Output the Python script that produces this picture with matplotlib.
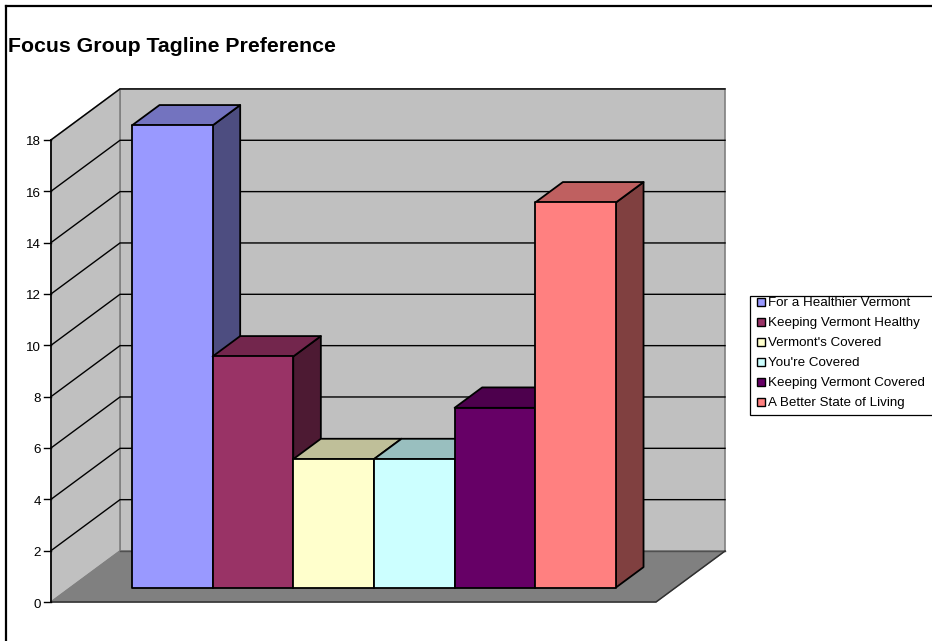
import matplotlib
matplotlib.use("Agg")
import matplotlib.pyplot as plt
from matplotlib.colors import to_rgb
from matplotlib.patches import Polygon, Rectangle

plt.rcParams["font.family"] = ["Liberation Sans", "DejaVu Sans"]

# Chart content
title = "Focus Group Tagline Preference"
taglines = ["For a Healthier Vermont", "Keeping Vermont Healthy", "Vermont's Covered",
            "You're Covered", "Keeping Vermont Covered", "A Better State of Living"]
votes = [18, 9, 5, 5, 7, 15]
bar_colors = ["#9999FF", "#993366", "#FFFFCC", "#CCFFFF", "#660066", "#FF8080"]
y_ticks = list(range(0, 20, 2))

W, H = 932, 641
fig = plt.figure(figsize=(W / 100, H / 100), dpi=100, facecolor="white")

# Pixel overlay for the frame, title and legend
page = fig.add_axes([0, 0, 1, 1], zorder=3)
page.set_xlim(0, W)
page.set_ylim(H, 0)
page.axis("off")
page.patch.set_alpha(0)

# Plot box: one x unit is one bar width, one y unit is one vote
PX_X0, PX_Y0 = 51.0, 602.0
PX_PER_BAR, PX_PER_VOTE = 80.67, 25.67
ax = fig.add_axes([0, 0, 1, 1], zorder=1)
ax.set_xlim(-PX_X0 / PX_PER_BAR, (W - PX_X0) / PX_PER_BAR)
ax.set_ylim((PX_Y0 - H) / PX_PER_VOTE, PX_Y0 / PX_PER_VOTE)
ax.axis("off")

# Oblique depth: depth 1 is the back wall
DX = 69.0 / PX_PER_BAR
DY = 51.0 / PX_PER_VOTE
FLOOR_W = 7.5
BAR_START = 0.76
Y_TOP = max(y_ticks)
BAR_D0, BAR_D1 = 0.284, 0.684


def pt(x, v, d=0.0):
    return (x + DX * d, v + DY * d)


def face(points, **kw):
    ax.add_patch(Polygon(points, closed=True, **kw))


def shade(color, k):
    return tuple(c * k for c in to_rgb(color))


WALL, FLOOR, EDGE = "#C0C0C0", "#808080", "#808080"

# Walls and floor
face([pt(0, 0, 1), pt(FLOOR_W, 0, 1), pt(FLOOR_W, Y_TOP, 1), pt(0, Y_TOP, 1)],
     facecolor=WALL, edgecolor=EDGE, linewidth=1.2, zorder=1)
face([pt(0, 0, 0), pt(0, 0, 1), pt(0, Y_TOP, 1), pt(0, Y_TOP, 0)],
     facecolor=WALL, edgecolor=EDGE, linewidth=1.2, zorder=1)
face([pt(0, 0, 0), pt(FLOOR_W, 0, 0), pt(FLOOR_W, 0, 1), pt(0, 0, 1)],
     facecolor=FLOOR, edgecolor=FLOOR, linewidth=0.8, zorder=1)

# Gridlines run along the side wall and then across the back wall
for v in y_ticks[1:]:
    xs, ys = zip(pt(0, v, 0), pt(0, v, 1), pt(FLOOR_W, v, 1))
    ax.plot(xs, ys, color="black", linewidth=1.0, zorder=2, solid_joinstyle="miter")
ax.plot(*zip(pt(0, 0, 1), pt(FLOOR_W, 0, 1)), color="#505050", linewidth=1.0, zorder=2)
ax.plot(*zip(pt(0, 0, 0), pt(FLOOR_W, 0, 0), pt(FLOOR_W, 0, 1)),
        color="#303030", linewidth=1.1, zorder=2)

# Value axis with outward ticks
ax.plot(*zip(pt(0, 0), pt(0, Y_TOP)), color="black", linewidth=1.2, zorder=3)
for v in y_ticks:
    x0, y0 = pt(0, v)
    ax.plot([x0 - 7 / PX_PER_BAR, x0], [y0, y0], color="black", linewidth=1.0, zorder=3)
    ax.text(x0 - 10 / PX_PER_BAR, y0 - 1 / PX_PER_VOTE, str(v), ha="right", va="center_baseline",
            fontsize=9.6, color="black", zorder=3)

# Bars, drawn left to right so each covers its neighbour's hidden edge
for i, (value, color) in enumerate(zip(votes, bar_colors)):
    x0, x1 = BAR_START + i, BAR_START + i + 1
    style = dict(edgecolor="black", linewidth=1.3, joinstyle="round", zorder=4 + i)
    face([pt(x1, 0, BAR_D0), pt(x1, 0, BAR_D1), pt(x1, value, BAR_D1), pt(x1, value, BAR_D0)],
         facecolor=shade(color, 0.5), **style)
    face([pt(x0, value, BAR_D0), pt(x1, value, BAR_D0), pt(x1, value, BAR_D1), pt(x0, value, BAR_D1)],
         facecolor=shade(color, 0.75), **style)
    face([pt(x0, 0, BAR_D0), pt(x1, 0, BAR_D0), pt(x1, value, BAR_D0), pt(x0, value, BAR_D0)],
         facecolor=color, **style)

# Chart frame, open past the right and bottom edges of the image
page.plot([6, 6], [H + 5, 6], color="black", linewidth=1.6)
page.plot([6, W + 5], [6, 6], color="black", linewidth=1.6)

page.text(8, 44, title, fontsize=15.3, fontweight="bold", ha="left", va="center_baseline")

# Legend
page.add_patch(Rectangle((750, 295.5), W + 5 - 750, 119.5,
                         facecolor="white", edgecolor="black", linewidth=0.9))
for i, (name, color) in enumerate(zip(taglines, bar_colors)):
    y = 301.5 + i * 20.0
    page.add_patch(Rectangle((757, y - 3.8), 8, 8.5, facecolor=color, edgecolor="black", linewidth=1.0))
    page.text(768, y, name, fontsize=9.6, ha="left", va="center_baseline")

fig.savefig("out.png", dpi=100, facecolor="white")
